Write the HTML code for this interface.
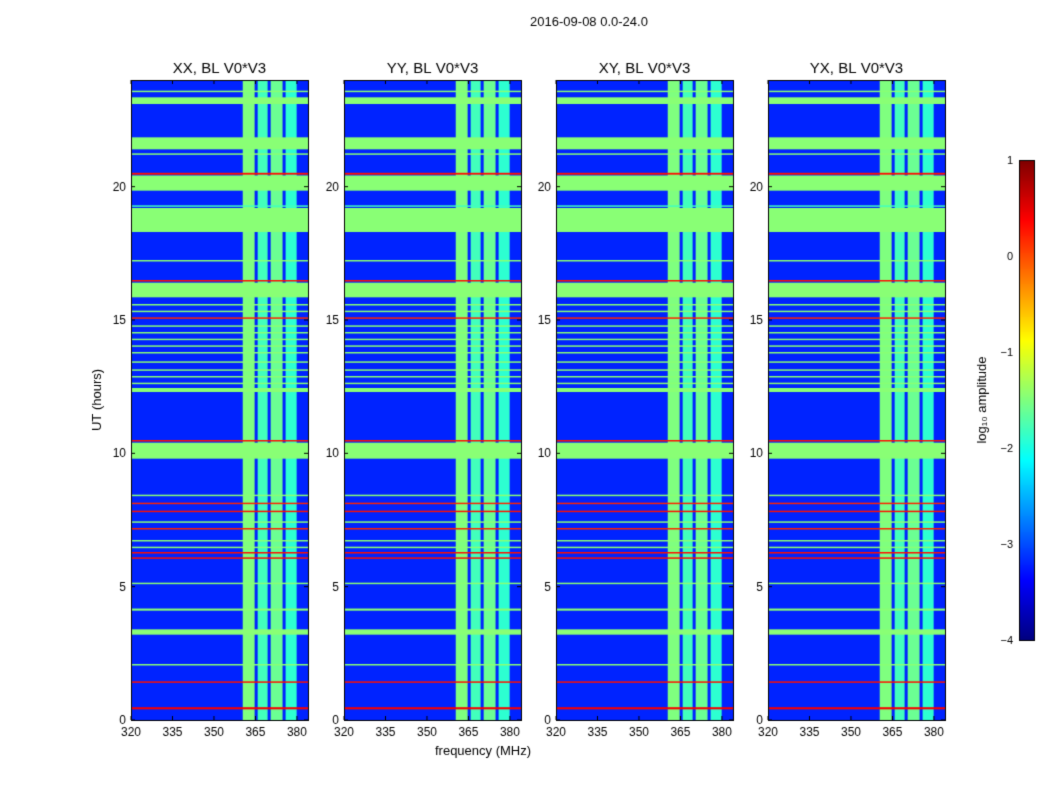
<!DOCTYPE html>
<html><head><meta charset="utf-8"><style>
body{margin:0;background:#fff;font-family:"Liberation Sans",sans-serif}
#wrap{position:relative;width:1050px;height:800px}
canvas{position:absolute;left:0;top:0}
</style></head><body>
<div id="wrap">
<canvas id="c" width="1050" height="800"></canvas>
</div>
<script>
// ---- data ----
const titles=["XX, BL V0*V3","YY, BL V0*V3","XY, BL V0*V3","YX, BL V0*V3"];
const xTicks=[320,335,350,365,380];
const yTicks=[0,5,10,15,20];
const cbTicks=[-4,-3,-2,-1,0,1];
const baseLevel=-3.2;
// RFI frequency columns [fStart,fEnd,level]
const freqBands=[[360.4,364.7,-1.5],[365.8,369.4,-1.8],[370.5,374.8,-1.6],[375.9,379.9,-1.9]];
// horizontal time bands [tStart,tEnd,level]
const timeBands=[
[23.1,23.35,-1.45],[23.55,23.6,-1.45],[21.4,21.85,-1.45],[21.2,21.25,-1.45],[20.45,20.52,0.3],[19.85,20.42,-1.45],
[19.25,19.3,-1.8],[18.3,19.2,-1.45],[17.2,17.25,-1.45],[16.45,16.5,0.3],[15.85,16.4,-1.45],
[15.55,15.6,-1.45],[15.3,15.35,-1.45],[15.05,15.1,0.2],[14.75,14.8,-1.45],[14.5,14.55,-1.45],[14.25,14.3,-1.45],
[14.0,14.05,-1.45],[13.75,13.8,-1.45],[13.4,13.45,-1.45],[13.1,13.15,-1.45],[12.85,12.9,-1.45],[12.6,12.65,-1.45],[12.3,12.45,-1.45],
[10.45,10.5,0.3],[9.8,10.4,-1.45],[8.4,8.45,-1.45],[8.1,8.15,0.2],[7.8,7.85,0.3],[7.4,7.45,-1.45],[7.15,7.2,0.2],
[6.7,6.75,-1.45],[6.45,6.5,-1.45],[6.25,6.3,0.3],[6.05,6.1,0.3],[5.1,5.15,-1.45],[4.1,4.18,-1.45],
[3.2,3.4,-1.45],[2.05,2.1,-1.45],[1.4,1.45,0.3],[0.4,0.48,0.4]];
// ---- layout ----
const panelsX=[131,344,556,768], pw=177, topY=80, botY=720;
const fmin=320,fmax=384,tmin=0,tmax=24;
const ctx=document.getElementById('c').getContext('2d');
function jet(v){
  let x=(v+4)/5; x=Math.max(0,Math.min(1,x));
  const r=Math.max(0,Math.min(1,1.5-Math.abs(4*x-3)));
  const g=Math.max(0,Math.min(1,1.5-Math.abs(4*x-2)));
  const b=Math.max(0,Math.min(1,1.5-Math.abs(4*x-1)));
  return `rgb(${r*255|0},${g*255|0},${b*255|0})`;
}
function drawPanel(i){
  const x0=panelsX[i];
  const X=f=>x0+(f-fmin)/(fmax-fmin)*pw;
  const Y=t=>botY-(t-tmin)/(tmax-tmin)*(botY-topY);
  ctx.fillStyle=jet(baseLevel); ctx.fillRect(x0,topY,pw,botY-topY);
  freqBands.forEach(b=>{ctx.fillStyle=jet(b[2]);ctx.fillRect(X(b[0]),topY,X(b[1])-X(b[0]),botY-topY);});
  timeBands.forEach(b=>{ctx.fillStyle=jet(b[2]);ctx.fillRect(x0,Y(b[1]),pw,Math.max(1.5,Y(b[0])-Y(b[1])));});
  ctx.strokeStyle='#000';ctx.lineWidth=1;ctx.strokeRect(x0+.5,topY+.5,pw,botY-topY);
  ctx.fillStyle='#000';ctx.font='12px "Liberation Sans", sans-serif';
  ctx.textAlign='center';
  xTicks.forEach(f=>{const x=X(f);ctx.fillText(f,x,736);ctx.beginPath();ctx.moveTo(x,botY);ctx.lineTo(x,botY-4);ctx.moveTo(x,topY);ctx.lineTo(x,topY+4);ctx.stroke();});
  ctx.textAlign='right';
  yTicks.forEach(t=>{const y=Y(t);ctx.fillText(t,x0-5,y+4);ctx.beginPath();ctx.moveTo(x0,y);ctx.lineTo(x0+4,y);ctx.moveTo(x0+pw,y);ctx.lineTo(x0+pw-4,y);ctx.stroke();});
  ctx.textAlign='center';ctx.font='15px "Liberation Sans", sans-serif';
  ctx.fillText(titles[i],x0+pw/2,73);
}
for(let i=0;i<4;i++)drawPanel(i);
ctx.fillStyle='#000';ctx.textAlign='center';
ctx.font='13px "Liberation Sans", sans-serif';ctx.fillText('2016-09-08 0.0-24.0',589,26);
ctx.fillText('frequency (MHz)',483,755);
ctx.save();ctx.translate(101,400);ctx.rotate(-Math.PI/2);ctx.fillText('UT (hours)',0,0);ctx.restore();
// colorbar
const cbx=1019,cbw=15,cbt=160,cbb=640;
for(let y=cbt;y<cbb;y++){ctx.fillStyle=jet(1-(y-cbt)/(cbb-cbt)*5);ctx.fillRect(cbx,y,cbw,1);}
ctx.strokeStyle='#000';ctx.strokeRect(cbx+.5,cbt+.5,cbw,cbb-cbt);
ctx.fillStyle='#000';ctx.font='11px "Liberation Sans", sans-serif';ctx.textAlign='right';
cbTicks.forEach(v=>{const y=cbb-(v+4)/5*(cbb-cbt);ctx.fillText(v<0?'\u2212'+(-v):v,1013,y+4);});
ctx.save();ctx.translate(986,400);ctx.rotate(-Math.PI/2);ctx.font='13px "Liberation Sans", sans-serif';ctx.textAlign='center';ctx.fillText('log\u2081\u2080 amplitude',0,0);ctx.restore();
</script>
</body></html>
